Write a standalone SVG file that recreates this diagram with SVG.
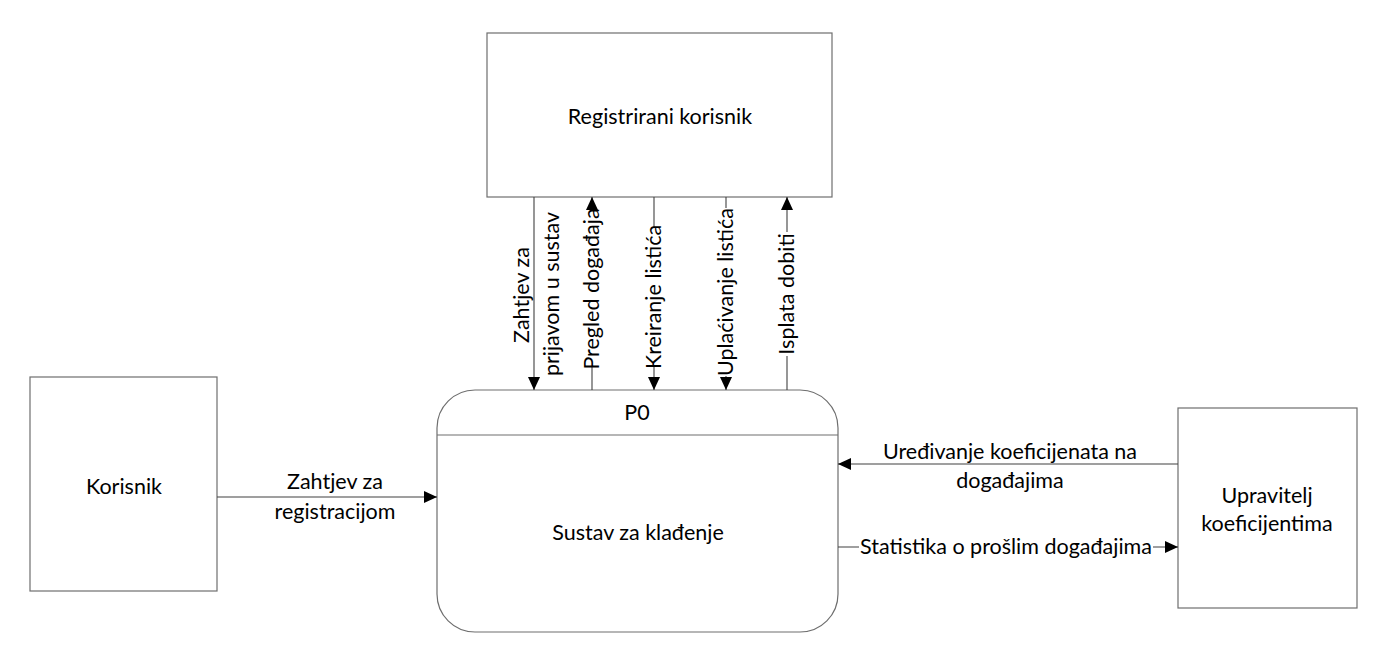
<svg xmlns="http://www.w3.org/2000/svg" width="1392" height="658" viewBox="0 0 1392 658">
<defs>
<style>
.box{fill:#fff;stroke:#6e6e6e;stroke-width:1.2}
.t{font-family:Lato,"Open Sans",sans-serif;font-size:21.5px;fill:#000;text-anchor:middle}
.c{stroke:#404040;stroke-width:1.1;fill:none}
.bg{fill:#fff}
</style>
<marker id="ah" markerUnits="userSpaceOnUse" markerWidth="14" markerHeight="12" viewBox="0 0 14 12" refX="13" refY="6" orient="auto">
<path d="M0,0 L13,6 L0,12 Z" fill="#000"/>
</marker>
</defs>
<rect width="1392" height="658" fill="#fff"/>

<g id="registrirani">
<rect class="box" x="487" y="33" width="345" height="164"/>
<text class="t" x="660" y="124">Registrirani korisnik</text>
</g>
<g id="korisnik">
<rect class="box" x="30" y="377" width="187" height="214"/>
<text class="t" x="124" y="494">Korisnik</text>
</g>
<g id="p0">
<rect class="box" x="437" y="390" width="401" height="242" rx="38" ry="38"/>
<line class="box" x1="437" y1="435" x2="838" y2="435"/>
<text class="t" x="637" y="420">P0</text>
<text class="t" x="638" y="540">Sustav za klađenje</text>
</g>
<g id="upravitelj">
<rect class="box" x="1178" y="408" width="179" height="200"/>
<text class="t" x="1267" y="503">Upravitelj</text>
<text class="t" x="1267" y="531">koeficijentima</text>
</g>

<g id="connectors">
<line class="c" x1="534" y1="197" x2="534" y2="390" marker-end="url(#ah)"/>
<line class="c" x1="592" y1="390" x2="592" y2="197" marker-end="url(#ah)"/>
<line class="c" x1="654" y1="197" x2="654" y2="390" marker-end="url(#ah)"/>
<line class="c" x1="726" y1="197" x2="726" y2="390" marker-end="url(#ah)"/>
<line class="c" x1="787" y1="390" x2="787" y2="197" marker-end="url(#ah)"/>
<line class="c" x1="217" y1="497" x2="437" y2="497" marker-end="url(#ah)"/>
<line class="c" x1="1178" y1="464" x2="838" y2="464" marker-end="url(#ah)"/>
<line class="c" x1="838" y1="547" x2="1178" y2="547" marker-end="url(#ah)"/>
</g>

<g id="labels">
<text class="t" transform="translate(529,295) rotate(-90)">Zahtjev za</text>
<text class="t" transform="translate(559,294) rotate(-90)">prijavom u sustav</text>
<g transform="translate(592,289) rotate(-90)">
<rect class="bg" x="-78" y="-13" width="156" height="22"/>
<text class="t" x="0" y="7">Pregled događaja</text>
</g>
<g transform="translate(654,297) rotate(-90)">
<rect class="bg" x="-69" y="-13" width="138" height="22"/>
<text class="t" x="0" y="7">Kreiranje listića</text>
</g>
<g transform="translate(726,292) rotate(-90)">
<rect class="bg" x="-84" y="-13" width="168" height="22"/>
<text class="t" x="0" y="7">Uplaćivanje listića</text>
</g>
<g transform="translate(787,294) rotate(-90)">
<rect class="bg" x="-62" y="-13" width="124" height="22"/>
<text class="t" x="0" y="7">Isplata dobiti</text>
</g>
<text class="t" x="335" y="489">Zahtjev za</text>
<text class="t" x="335" y="519">registracijom</text>
<text class="t" x="1010" y="459">Uređivanje koeficijenata na</text>
<text class="t" x="1010" y="488">događajima</text>
<rect class="bg" x="859" y="535" width="294" height="24"/>
<text class="t" x="1006" y="554">Statistika o prošlim događajima</text>
</g>
</svg>
